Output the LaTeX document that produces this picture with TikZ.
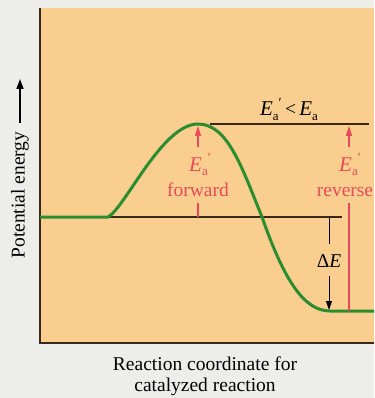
\documentclass[tikz,border=0pt]{standalone}
\usepackage{fontspec}
\setmainfont{Liberation Serif}
\usetikzlibrary{arrows.meta}
\definecolor{panelc}{RGB}{249,206,142}
\definecolor{bgc}{RGB}{237,237,233}
\definecolor{curvec}{RGB}{44,140,48}
\definecolor{linec}{RGB}{55,40,25}
\definecolor{redc}{RGB}{232,74,90}
\newcommand\EaP{{\fontsize{21}{21}\selectfont\textit{E}}\raisebox{-0.45ex}{\fontsize{13}{13}\selectfont a}\raisebox{0.9ex}{\fontsize{14}{14}\selectfont ′}}
\newcommand\EaS{{\fontsize{21}{21}\selectfont\textit{E}}\raisebox{-0.45ex}{\fontsize{13}{13}\selectfont a}}
\tikzset{
  lbl/.style={inner sep=0pt, font=\fontsize{19.5}{22}\selectfont},
  redlbl/.style={lbl, text=redc},
  lvl/.style={draw=linec, line width=1.2pt},
  redln/.style={draw=redc, line width=1.1pt},
  redarr/.style={redln, -{Triangle[length=10pt,width=6pt]}},
  blkarr/.style={draw=black, line width=1pt, -{Triangle[length=9pt,width=6pt]}},
  yarr/.style={draw=black, line width=1.8pt, -{Triangle[length=10pt,width=7pt]}},
  energy/.style={draw=curvec, line width=3pt, line join=round}
}
\begin{document}
\begin{tikzpicture}[x=1pt,y=-1pt]
\useasboundingbox (0,0) rectangle (374,398);
\fill[bgc] (0,0) rectangle (374,398);
\fill[panelc] (40,8) rectangle (374,343);
\coordinate (axtop) at (40,8);
\coordinate (axorg) at (40,343);
\coordinate (axend) at (374,343);
\draw[draw=linec, line width=1.2pt] (axtop) -- (axorg) -- (axend);

% level lines
\coordinate (r1) at (108,217);
\coordinate (r2) at (342,217);
\coordinate (t1) at (210,124);
\coordinate (t2) at (369,124);
\draw[lvl] (r1) -- (r2);
\draw[lvl] (t1) -- (t2);

% energy curve
\coordinate (c0) at (40,217);
\coordinate (peak) at (198,124);
\coordinate (cross) at (262,217);
\coordinate (low) at (330,311);
\coordinate (c9) at (374,311);
\draw[energy] (c0) -- (r1) .. controls (125,208) and (162,124) .. (peak)
  .. controls (228,124) and (242,168) .. (cross)
  .. controls (284,280) and (304,311) .. (low) -- (c9);

% forward activation energy
\node[redlbl, anchor=base] (eaf) at (200,171) {\EaP};
\node[redlbl, anchor=base] (fwd) at (198,196) {forward};
\coordinate (f0) at (198,147);
\coordinate (f1) at (198,126);
\coordinate (f2) at (198,203);
\coordinate (f3) at (198,217);
\draw[redarr] (f0) -- (f1);
\draw[redln] (f2) -- (f3);

% reverse activation energy
\node[redlbl, anchor=base] (ear) at (350,171) {\EaP};
\node[redlbl, anchor=base] (rev) at (345,196) {reverse};
\coordinate (v0) at (349,147);
\coordinate (v1) at (349,126);
\coordinate (v2) at (349,203);
\coordinate (v3) at (349,311);
\draw[redarr] (v0) -- (v1);
\draw[redln] (v2) -- (v3);

% Delta E
\node[lbl, anchor=base] (de) at (329,267) {Δ\textit{E}};
\coordinate (d0) at (329,217);
\coordinate (d1) at (329,244);
\coordinate (d2) at (329,276);
\coordinate (d3) at (329,310);
\draw[line width=1pt] (d0) -- (d1);
\draw[blkarr] (d2) -- (d3);

% comparison label
\node[lbl, anchor=base] (cmp) at (289,116) {\EaP\,<\,\EaS};

% axes labels
\node[lbl, rotate=90, anchor=center] (ylab) at (20,195) {Potential energy};
\coordinate (ya0) at (20,123);
\coordinate (ya1) at (20,79);
\draw[yarr] (ya0) -- (ya1);
\node[lbl, anchor=base] (xl1) at (205,370) {Reaction coordinate for};
\node[lbl, anchor=base] (xl2) at (205,391) {catalyzed reaction};
\end{tikzpicture}
\end{document}
